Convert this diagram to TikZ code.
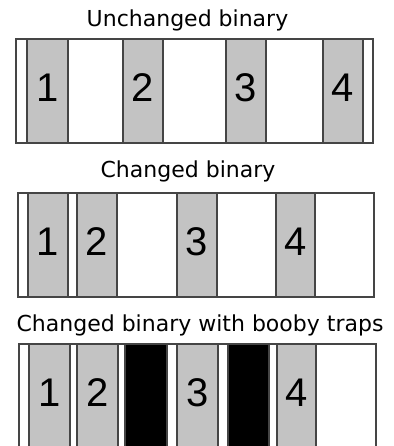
\documentclass[tikz,border=0pt]{standalone}
\usepackage{fontspec}
\setmainfont{DejaVu Sans}
\newfontfamily\digitfont{Liberation Sans}
\usepackage{tikz}
\usetikzlibrary{positioning}
\definecolor{edgegray}{HTML}{454545}
\definecolor{codegray}{HTML}{C3C3C3}

\begin{document}
\begin{tikzpicture}[
    x=1pt, y=-1pt,
    frame/.style={draw=edgegray, line width=1.4pt, fill=white, inner sep=0pt,
                  minimum width=#1, minimum height=104pt},
    strip/.style={draw=edgegray, line width=1.4pt, fill=codegray, inner sep=0pt,
                  minimum width=#1, minimum height=104pt, text depth=7pt,
                  font=\digitfont\fontsize{40}{40}\selectfont},
    trap/.style={draw=edgegray, line width=1.4pt, fill=black, inner sep=0pt,
                 minimum width=#1, minimum height=104pt},
    title/.style={anchor=base, font=\fontsize{22}{26}\selectfont}
]
    \useasboundingbox (0,0) rectangle (393,446);
    \clip (0,0) rectangle (393,446);

    % unchanged binary
    \node[title] (ttlunchanged) at (187.5,27) {Unchanged binary};
    \node[frame=357pt] (unchanged) at (194.5,91) {};
    \node[strip=41pt] (u1) at (47.5,91) {1};
    \node[strip=40pt] (u2) at (143,91) {2};
    \node[strip=40pt] (u3) at (246,91) {3};
    \node[strip=40pt] (u4) at (343,91) {4};

    % changed binary
    \node[title] (ttlchanged) at (188,178) {Changed binary};
    \node[frame=356pt] (changed) at (196,245) {};
    \node[strip=40pt] (c1) at (48,245) {1};
    \node[strip=40pt] (c2) at (97,245) {2};
    \node[strip=40pt] (c3) at (197,245) {3};
    \node[strip=39pt] (c4) at (295.5,245) {4};

    % changed binary with booby traps
    \node[title] (ttltrapped) at (200,331) {Changed binary with booby traps};
    \node[frame=357pt] (trapped) at (197.5,396) {};
    \node[strip=41pt] (t1) at (49.5,396) {1};
    \node[strip=41pt] (t2) at (97.5,396) {2};
    \node[trap=42pt] (trapa) at (146,396) {};
    \node[strip=41pt] (t3) at (197.5,396) {3};
    \node[trap=41pt] (trapb) at (248.5,396) {};
    \node[strip=39pt] (t4) at (296.5,396) {4};
\end{tikzpicture}
\end{document}
